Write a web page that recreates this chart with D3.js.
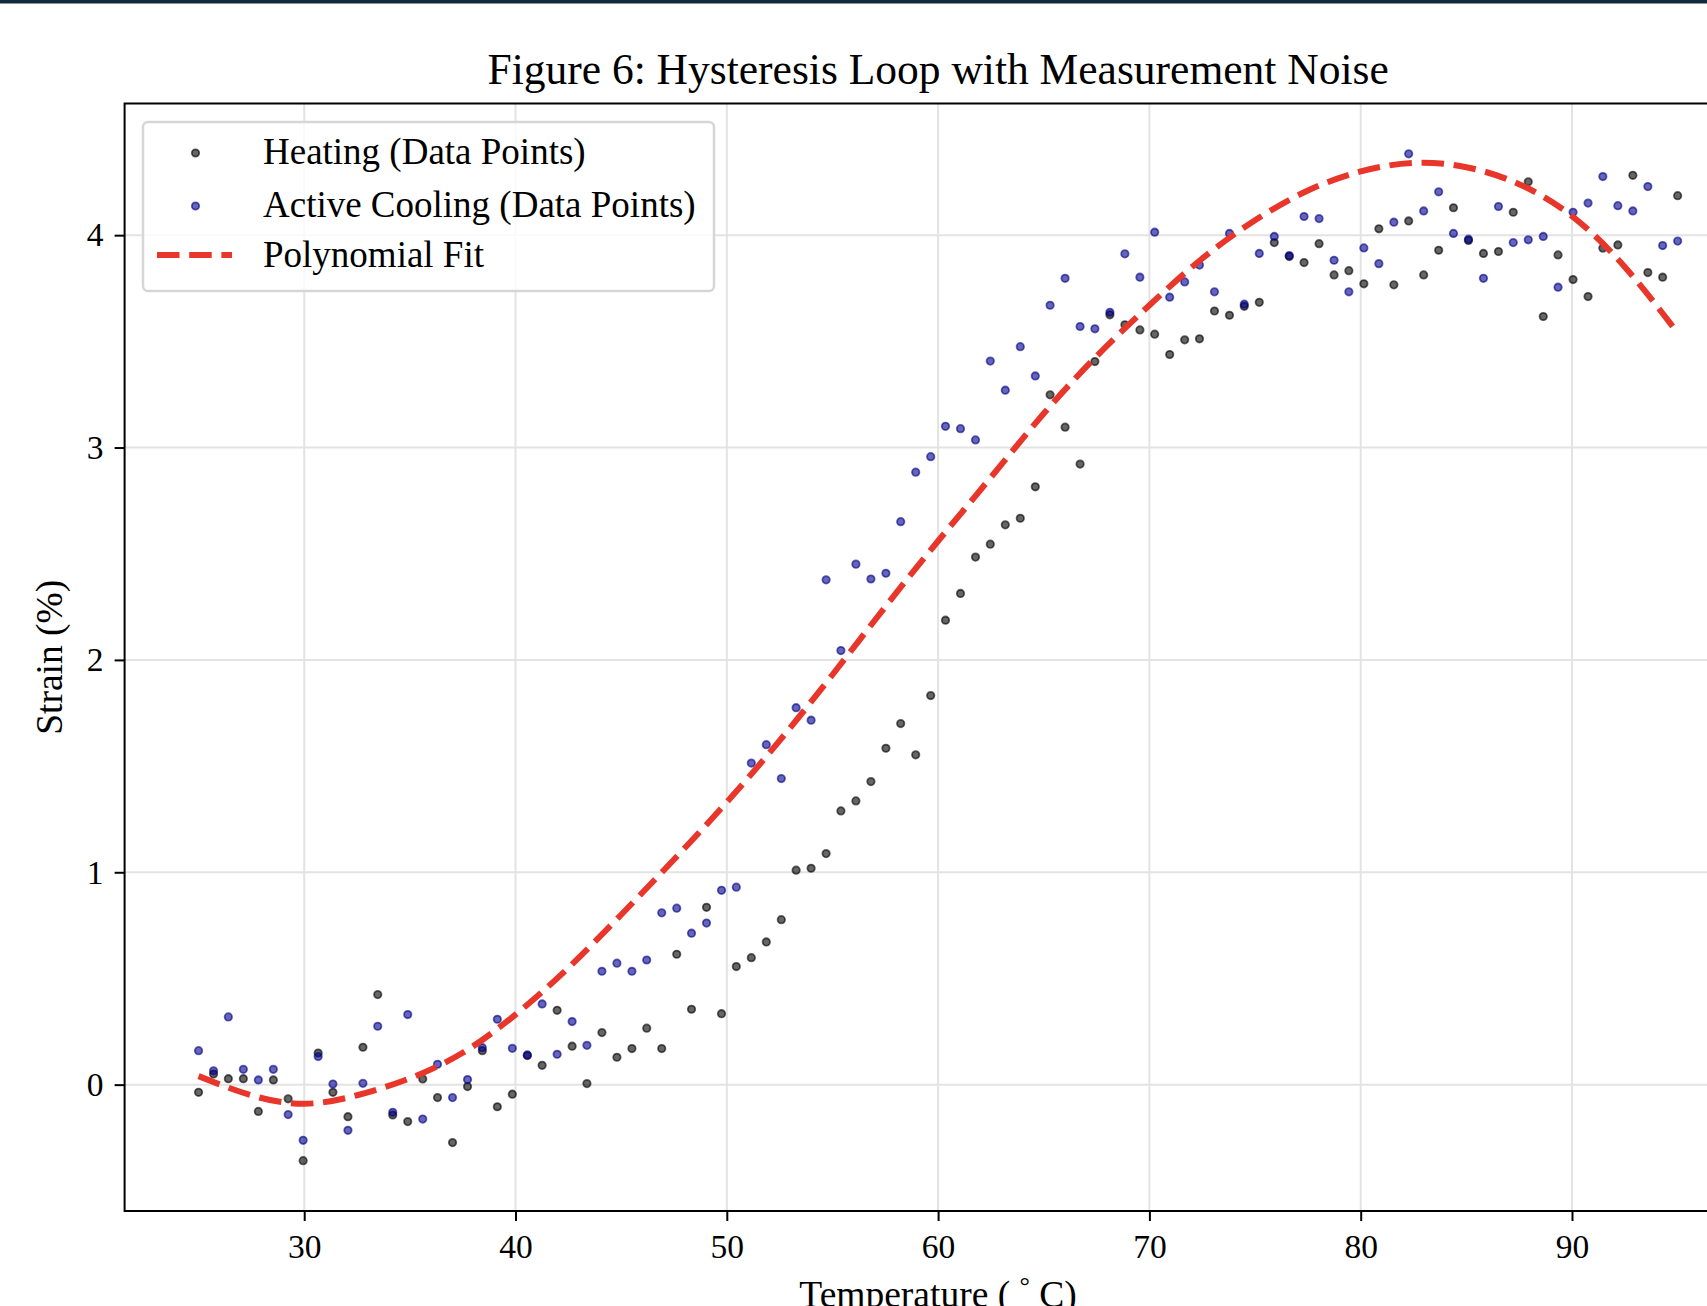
<!DOCTYPE html>
<html>
<head>
<meta charset="utf-8">
<script src="https://cdn.jsdelivr.net/npm/d3@7"></script>
<style>
  html, body { margin: 0; padding: 0; background: #ffffff; overflow: hidden; }
  svg { display: block; }
  text { font-family: "Liberation Serif", "Times New Roman", Times, serif; fill: #000; }
</style>
</head>
<body>
<script>
// ---------------- data ----------------
const temperature = [
  25.00, 25.71, 26.41, 27.12, 27.83, 28.54, 29.24, 29.95, 30.66, 31.36,
  32.07, 32.78, 33.48, 34.19, 34.90, 35.61, 36.31, 37.02, 37.73, 38.43,
  39.14, 39.85, 40.56, 41.26, 41.97, 42.68, 43.38, 44.09, 44.80, 45.51,
  46.21, 46.92, 47.63, 48.33, 49.04, 49.75, 50.45, 51.16, 51.87, 52.58,
  53.28, 53.99, 54.70, 55.40, 56.11, 56.82, 57.53, 58.23, 58.94, 59.65,
  60.35, 61.06, 61.77, 62.47, 63.18, 63.89, 64.60, 65.30, 66.01, 66.72,
  67.42, 68.13, 68.84, 69.55, 70.25, 70.96, 71.67, 72.37, 73.08, 73.79,
  74.49, 75.20, 75.91, 76.62, 77.32, 78.03, 78.74, 79.44, 80.15, 80.86,
  81.57, 82.27, 82.98, 83.69, 84.39, 85.10, 85.81, 86.52, 87.22, 87.93,
  88.64, 89.34, 90.05, 90.76, 91.46, 92.17, 92.88, 93.59, 94.29, 95.00
];

const heatingStrain = [
  -0.036, 0.050, 0.028, 0.028, -0.126, 0.022, -0.067, -0.358, 0.149, -0.036,
  -0.151, 0.176, 0.424, -0.143, -0.174, 0.027, -0.061, -0.273, -0.009, 0.160,
  -0.104, -0.045, 0.137, 0.091, 0.350, 0.181, 0.005, 0.245, 0.129, 0.170,
  0.266, 0.170, 0.614, 0.355, 0.835, 0.334, 0.556, 0.598, 0.672, 0.777,
  1.010, 1.019, 1.088, 1.289, 1.336, 1.427, 1.584, 1.700, 1.553, 1.832,
  2.187, 2.313, 2.484, 2.545, 2.636, 2.667, 2.815, 3.248, 3.096, 2.922,
  3.405, 3.625, 3.578, 3.554, 3.534, 3.438, 3.507, 3.512, 3.643, 3.623,
  3.665, 3.684, 3.965, 3.899, 3.871, 3.960, 3.813, 3.833, 3.771, 4.030,
  3.766, 4.067, 3.813, 3.929, 4.129, 3.975, 3.914, 3.923, 4.108, 4.251,
  3.617, 3.907, 3.791, 3.711, 3.939, 3.954, 4.282, 3.824, 3.802, 4.186
];

const coolingStrain = [
  0.160, 0.065, 0.319, 0.072, 0.022, 0.072, -0.141, -0.262, 0.132, 0.003,
  -0.215, 0.006, 0.275, -0.130, 0.330, -0.162, 0.096, -0.061, 0.024, 0.174,
  0.308, 0.171, 0.140, 0.380, 0.143, 0.297, 0.185, 0.534, 0.572, 0.534,
  0.587, 0.809, 0.831, 0.713, 0.761, 0.915, 0.930, 1.514, 1.601, 1.441,
  1.775, 1.716, 2.377, 2.044, 2.451, 2.381, 2.408, 2.651, 2.884, 2.957,
  3.100, 3.089, 3.036, 3.407, 3.270, 3.475, 3.337, 3.670, 3.797, 3.570,
  3.559, 3.637, 3.912, 3.802, 4.014, 3.708, 3.780, 3.859, 3.733, 4.008,
  3.675, 3.914, 3.994, 3.904, 4.088, 4.078, 3.882, 3.733, 3.940, 3.866,
  4.061, 4.383, 4.114, 4.204, 4.008, 3.981, 3.797, 4.135, 3.965, 3.978,
  3.994, 3.755, 4.108, 4.151, 4.276, 4.139, 4.114, 4.229, 3.951, 3.972
];

// polynomial fit curve
const fitTemperature = [25, 27.5, 30, 32.5, 35, 37.5, 40, 42.5, 45, 47.5, 50, 52.5, 55, 57.5,
  60, 62.5, 65, 67.5, 70, 72.5, 75, 77.5, 80, 82.5, 85, 87.5, 90, 92.5, 95];
const fitStrain = [0.04, -0.05, -0.09, -0.05, 0.03, 0.15, 0.33, 0.55, 0.80, 1.06, 1.33, 1.62, 1.93, 2.25,
  2.56, 2.86, 3.16, 3.43, 3.67, 3.89, 4.07, 4.21, 4.30, 4.34, 4.32, 4.24, 4.09, 3.85, 3.54];

const xTicks = [30, 40, 50, 60, 70, 80, 90];
const yTicks = [0, 1, 2, 3, 4];
const titleText = "Figure 6: Hysteresis Loop with Measurement Noise";
const yLabelText = "Strain (%)";
const legendLabels = ["Heating (Data Points)", "Active Cooling (Data Points)", "Polynomial Fit"];

// ---------------- layout ----------------
const W = 1707, H = 1306;
const plot = { left: 124.6, top: 103.5, right: 1751.6, bottom: 1211 };
const heatColor = "#000000", coolColor = "#00008b", fitColor = "#e8362a";
const dash = "22.5,9.7";

const svg = d3.select("body").append("svg").attr("width", W).attr("height", H);

svg.append("rect").attr("x", 0).attr("y", 0).attr("width", W).attr("height", 3.5).attr("fill", "#11293a");

const x = d3.scaleLinear().domain([21.5, 98.5]).range([plot.left, plot.right]);
const y = d3.scaleLinear().domain([-0.595, 4.62]).range([plot.bottom, plot.top]);

svg.append("clipPath").attr("id", "clip").append("rect")
  .attr("x", plot.left).attr("y", plot.top)
  .attr("width", plot.right - plot.left).attr("height", plot.bottom - plot.top);

// grid
const grid = svg.append("g");
grid.selectAll("line.gx").data(xTicks).join("line")
  .attr("x1", d => x(d)).attr("x2", d => x(d))
  .attr("y1", plot.top).attr("y2", plot.bottom)
  .attr("stroke", "#e3e3e3").attr("stroke-width", 2);
grid.selectAll("line.gy").data(yTicks).join("line")
  .attr("x1", plot.left).attr("x2", plot.right)
  .attr("y1", d => y(d)).attr("y2", d => y(d))
  .attr("stroke", "#e3e3e3").attr("stroke-width", 2);

// points
const pts = svg.append("g").attr("clip-path", "url(#clip)");
function drawSeries(values, color) {
  pts.append("g").selectAll("circle").data(values.map((v, i) => [temperature[i], v])).join("circle")
    .attr("cx", d => x(d[0])).attr("cy", d => y(d[1])).attr("r", 3.7)
    .attr("fill", color).attr("fill-opacity", 0.6)
    .attr("stroke", color).attr("stroke-opacity", 0.6).attr("stroke-width", 1.8);
}
drawSeries(heatingStrain, heatColor);
drawSeries(coolingStrain, coolColor);

// fit
const line = d3.line().x(d => x(d[0])).y(d => y(d[1])).curve(d3.curveNatural);
pts.append("path").datum(fitTemperature.map((t, i) => [t, fitStrain[i]]))
  .attr("d", line).attr("fill", "none").attr("stroke", fitColor)
  .attr("stroke-width", 6).attr("stroke-dasharray", dash);

// frame
svg.append("rect").attr("x", plot.left).attr("y", plot.top)
  .attr("width", plot.right - plot.left).attr("height", plot.bottom - plot.top)
  .attr("fill", "none").attr("stroke", "#000").attr("stroke-width", 2);

// axes
const xAxis = svg.append("g").attr("transform", `translate(0,${plot.bottom})`)
  .call(d3.axisBottom(x).tickValues(xTicks).tickSize(10).tickPadding(13.5).tickFormat(d3.format("d")));
const yAxis = svg.append("g").attr("transform", `translate(${plot.left},0)`)
  .call(d3.axisLeft(y).tickValues(yTicks).tickSize(10).tickPadding(11).tickFormat(d3.format("d")));
[xAxis, yAxis].forEach(a => {
  a.select(".domain").remove();
  a.selectAll(".tick line").attr("stroke", "#000").attr("stroke-width", 2);
  a.selectAll(".tick text").style("font-family", '"Liberation Serif", "Times New Roman", serif')
    .style("font-size", "33.5px").attr("fill", "#000");
});

// title
svg.append("text").attr("x", (plot.left + plot.right) / 2).attr("y", 83.5)
  .attr("text-anchor", "middle").style("font-size", "43.5px").text(titleText);

// x label
const xl = svg.append("text").attr("x", (plot.left + plot.right) / 2).attr("y", 1307)
  .attr("text-anchor", "middle").style("font-size", "37.5px");
xl.append("tspan").text("Temperature ( ");
xl.append("tspan").attr("dy", -13).style("font-size", "26px").text("°");
xl.append("tspan").attr("dy", 13).text(" C)");

// y label
svg.append("text").attr("transform", `translate(62,${(plot.top + plot.bottom) / 2}) rotate(-90)`)
  .attr("text-anchor", "middle").style("font-size", "37.5px").text(yLabelText);

// legend
const lg = svg.append("g");
lg.append("rect").attr("x", 143).attr("y", 122).attr("width", 571).attr("height", 169)
  .attr("rx", 5).attr("fill", "#ffffff").attr("fill-opacity", 0.8)
  .attr("stroke", "#d6d6d6").attr("stroke-width", 2.5);
const legendRows = [
  { label: legendLabels[0], kind: "dot", color: heatColor, cy: 153, base: 163.5 },
  { label: legendLabels[1], kind: "dot", color: coolColor, cy: 206, base: 216.5 },
  { label: legendLabels[2], kind: "line", color: fitColor, cy: 255, base: 267 }
];
legendRows.forEach(r => {
  if (r.kind === "dot") {
    lg.append("circle").attr("cx", 195.5).attr("cy", r.cy).attr("r", 3.7)
      .attr("fill", r.color).attr("fill-opacity", 0.6)
      .attr("stroke", r.color).attr("stroke-opacity", 0.6).attr("stroke-width", 1.8);
  } else {
    lg.append("line").attr("x1", 157).attr("x2", 232).attr("y1", r.cy).attr("y2", r.cy)
      .attr("stroke", r.color).attr("stroke-width", 6).attr("stroke-dasharray", dash);
  }
  lg.append("text").attr("x", 263).attr("y", r.base).style("font-size", "37px").text(r.label);
});
</script>
</body>
</html>
